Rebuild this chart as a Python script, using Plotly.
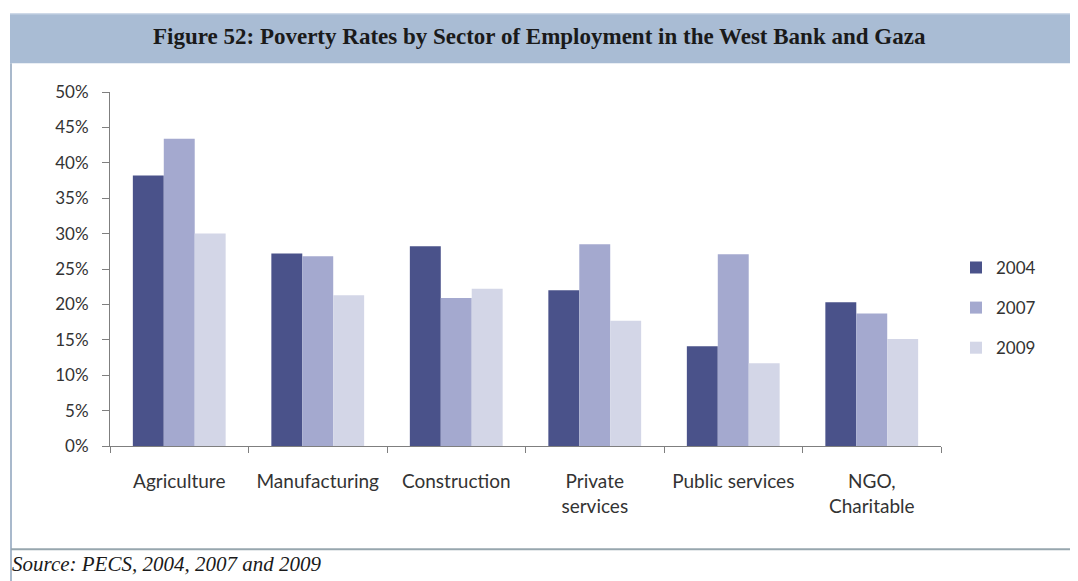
import plotly.graph_objects as go

categories = ["Agriculture", "Manufacturing", "Construction", "Private<br>services",
              "Public services", "NGO,<br>Charitable"]
years = ["2004", "2007", "2009"]
rate_2004 = [0.382, 0.272, 0.282, 0.220, 0.141, 0.203]
rate_2007 = [0.434, 0.268, 0.209, 0.285, 0.271, 0.187]
rate_2009 = [0.300, 0.213, 0.222, 0.177, 0.117, 0.151]
series = [rate_2004, rate_2007, rate_2009]
colors = ["#4a528a", "#a4a9cf", "#d3d6e7"]

# page body has an 8px margin; work in screen pixels and convert
OFF = 8
W, H = 1078 - OFF, 581 - OFF
SL, SR = 110, 941          # plot area x (screen pixels)
ST, SB = 91.7, 446.5       # plot area y (screen pixels)
L, R, T, B = SL - OFF, SR - OFF, ST - OFF, SB - OFF


def px_x(p):
    return (p - SL) / (SR - SL)


def px_y(p):
    return (SB - p) / (SB - ST)


fig = go.Figure()
for yr, vals, col in zip(years, series, colors):
    fig.add_trace(go.Bar(name=yr, x=categories, y=vals, marker=dict(color=col, line=dict(width=0)),
                         legendgroup=yr))

fig.update_layout(
    width=W, height=H,
    margin=dict(l=L, r=W - R, t=T, b=H - B, pad=0),
    paper_bgcolor="white", plot_bgcolor="white",
    barmode="group", bargap=0.33, bargroupgap=0,
    font=dict(family="Lato, Open Sans, sans-serif", color="#333333"),
    legend=dict(x=px_x(956), y=px_y(250), xanchor="left", yanchor="top",
                font=dict(size=17, color="#333333"), tracegroupgap=15,
                traceorder="grouped", itemwidth=30, bgcolor="rgba(0,0,0,0)"),
    showlegend=True,
)
fig.update_yaxes(range=[0, 0.5], dtick=0.05, tickformat=".0%", showgrid=False,
                 showline=True, linecolor="#7f7f7f", linewidth=1,
                 ticks="outside", ticklen=7, tickcolor="#7f7f7f",
                 ticklabelstandoff=10,
                 tickfont=dict(size=17, color="#333333"), zeroline=False)
fig.update_xaxes(showline=True, linecolor="#7f7f7f", linewidth=1,
                 ticks="outside", ticklen=6, tickcolor="#7f7f7f", tickson="boundaries",
                 tickfont=dict(size=19, color="#333333"), ticklabelstandoff=18,
                 showgrid=False)

# title banner
fig.add_shape(type="rect", xref="paper", yref="paper",
              x0=px_x(10), x1=px_x(1085), y0=px_y(63), y1=px_y(13),
              fillcolor="#a9bcd4", line=dict(width=0), layer="below")
fig.add_shape(type="line", xref="paper", yref="paper",
              x0=px_x(10), x1=px_x(1085), y0=px_y(13.5), y1=px_y(13.5),
              line=dict(color="#c9d6e6", width=1))
# left border of box
fig.add_shape(type="line", xref="paper", yref="paper",
              x0=px_x(11), x1=px_x(11), y0=px_y(63), y1=px_y(590),
              line=dict(color="#a9b9cc", width=2))
# separator above source
fig.add_shape(type="line", xref="paper", yref="paper",
              x0=px_x(11), x1=px_x(1085), y0=px_y(550), y1=px_y(550),
              line=dict(color="#97a6ae", width=2))

fig.add_annotation(text="<b>Figure 52: Poverty Rates by Sector of Employment in the West Bank and Gaza</b>",
                   xref="paper", yref="paper", x=px_x(539), y=px_y(36),
                   xanchor="center", yanchor="middle", showarrow=False,
                   font=dict(family="Liberation Serif, Times New Roman, serif", size=23, color="#1a1a1a"))
fig.add_annotation(text="<i>Source: PECS, 2004, 2007 and 2009</i>",
                   xref="paper", yref="paper", x=px_x(10), y=px_y(565),
                   xanchor="left", yanchor="middle", showarrow=False,
                   font=dict(family="Liberation Serif, Times New Roman, serif", size=21, color="#1a1a1a"))

fig.write_html("out.html")
